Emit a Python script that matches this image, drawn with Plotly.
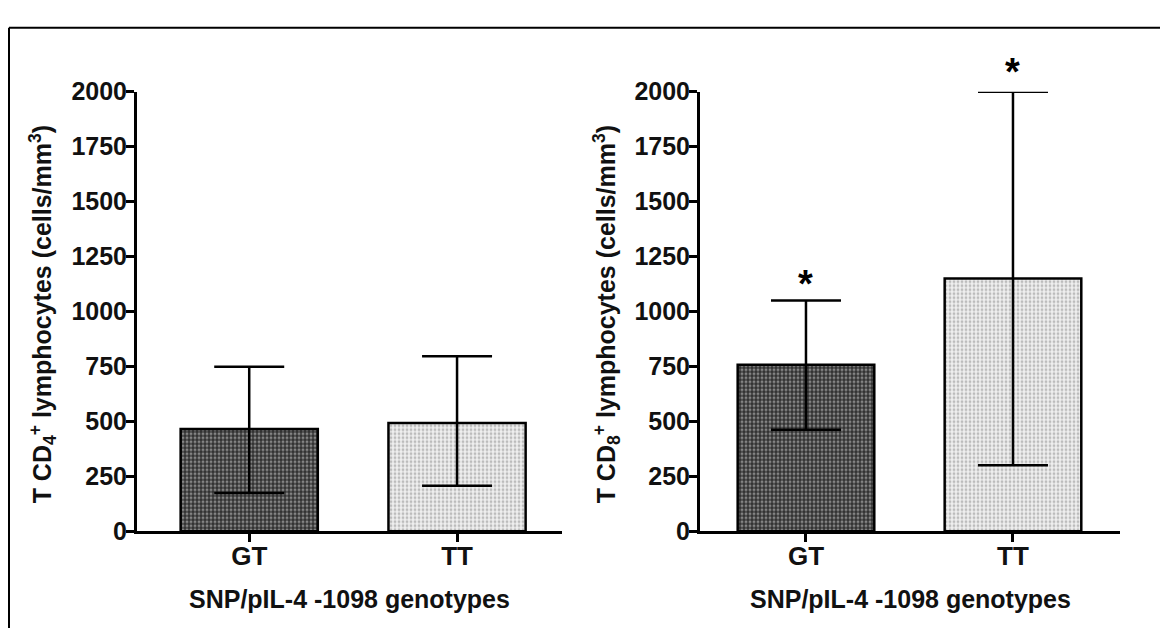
import plotly.graph_objects as go

genotypes = ["GT", "TT"]
cd4_mean = [465, 493]
cd4_upper = [748, 796]
cd4_lower = [174, 207]
cd8_mean = [758, 1150]
cd8_upper = [1050, 2000]
cd8_lower = [462, 300]
y_ticks = [0, 250, 500, 750, 1000, 1250, 1500, 1750, 2000]
significant_cd8 = ["*", "*"]

W, H = 1168, 628
OFF = 8  # default page (body) margin the figure is drawn inside
FONT = "Arial"


def px(p):
    """page x pixel -> paper fraction"""
    return (p - OFF) / W


def py(p):
    """page y pixel (from top) -> paper fraction"""
    return 1 - (p - OFF) / H


patterns = [
    dict(shape=".", fgcolor="#d8d8d8", bgcolor="#303030", size=4, solidity=0.45),
    dict(shape=".", fgcolor="#8a8a8a", bgcolor="#efefef", size=4, solidity=0.4),
]

fig = go.Figure()


def add_panel(mean, upper, lower, xa, ya):
    for i, g in enumerate(genotypes):
        fig.add_trace(go.Bar(
            x=[g], y=[mean[i]], xaxis=xa, yaxis=ya,
            width=0.66,
            marker=dict(color="white", pattern=patterns[i],
                        line=dict(color="black", width=2.5)),
            error_y=dict(type="data", symmetric=False,
                         array=[upper[i] - mean[i]],
                         arrayminus=[mean[i] - lower[i]],
                         color="black", thickness=2.5, width=35),
            showlegend=False, cliponaxis=False,
        ))


add_panel(cd4_mean, cd4_upper, cd4_lower, "x", "y")
add_panel(cd8_mean, cd8_upper, cd8_lower, "x2", "y2")

ydom = [py(541), py(81)]
ytick_font = dict(family=FONT, size=25, color="#111", weight="bold")
xtick_font = dict(family=FONT, size=26, color="#111", weight="bold")
axis_common = dict(showline=True, linecolor="black", linewidth=3,
                   ticks="outside", ticklen=8, tickwidth=3, tickcolor="black",
                   showgrid=False, zeroline=False)

fig.update_layout(
    width=W, height=H,
    margin=dict(l=0, r=0, t=0, b=0),
    paper_bgcolor="white", plot_bgcolor="white",
    barmode="overlay",
    xaxis=dict(domain=[px(137), px(562)], type="category", tickfont=xtick_font,
               range=[-0.54, 1.505], anchor="y", ticklabelstandoff=-8, **axis_common),
    yaxis=dict(domain=ydom, range=[0, 2000], tickvals=y_ticks, tickfont=ytick_font,
               anchor="x", ticklabelstandoff=-6, **axis_common),
    xaxis2=dict(domain=[px(700), px(1120)], type="category", tickfont=xtick_font,
                range=[-0.512, 1.517], anchor="y2", ticklabelstandoff=-8, **axis_common),
    yaxis2=dict(domain=ydom, range=[0, 2000], tickvals=y_ticks, tickfont=ytick_font,
                anchor="x2", ticklabelstandoff=-6, **axis_common),
)

title_font = dict(family=FONT, size=25, color="#111", weight="bold")
ytitle = "T CD<sub>{}</sub><sup>+</sup> lymphocytes (cells/mm<sup>3</sup>)"
xtitle = "SNP/pIL-4 -1098 genotypes"

ann = [
    dict(text=ytitle.format(4), x=px(43), y=py(314), xref="paper", yref="paper",
         textangle=-90, showarrow=False, font=title_font, xanchor="center", yanchor="middle"),
    dict(text=ytitle.format(8), x=px(607), y=py(314), xref="paper", yref="paper",
         textangle=-90, showarrow=False, font=title_font, xanchor="center", yanchor="middle"),
    dict(text=xtitle, x=px((137 + 562) / 2), y=py(612), xref="paper", yref="paper",
         showarrow=False, font=title_font, xanchor="center", yanchor="middle"),
    dict(text=xtitle, x=px((700 + 1120) / 2), y=py(612), xref="paper", yref="paper",
         showarrow=False, font=title_font, xanchor="center", yanchor="middle"),
]
for i, g in enumerate(genotypes):
    ann.append(dict(text=significant_cd8[i], x=g, y=cd8_upper[i],
                    xref="x2", yref="y2", showarrow=False, yanchor="bottom",
                    font=dict(family=FONT, size=38, color="black", weight="bold"),
                    yshift=-6 if i == 0 else -3))
fig.update_layout(annotations=ann)

# outer frame (top and left edges of the original figure box)
fig.add_shape(type="line", xref="paper", yref="paper", x0=px(9), x1=1.01, y0=py(14), y1=py(14),
              line=dict(color="black", width=2))
fig.add_shape(type="line", xref="paper", yref="paper", x0=px(9), x1=px(9), y0=-0.02, y1=py(14),
              line=dict(color="black", width=2))

fig.write_html("out.html", config={"displayModeBar": False})
